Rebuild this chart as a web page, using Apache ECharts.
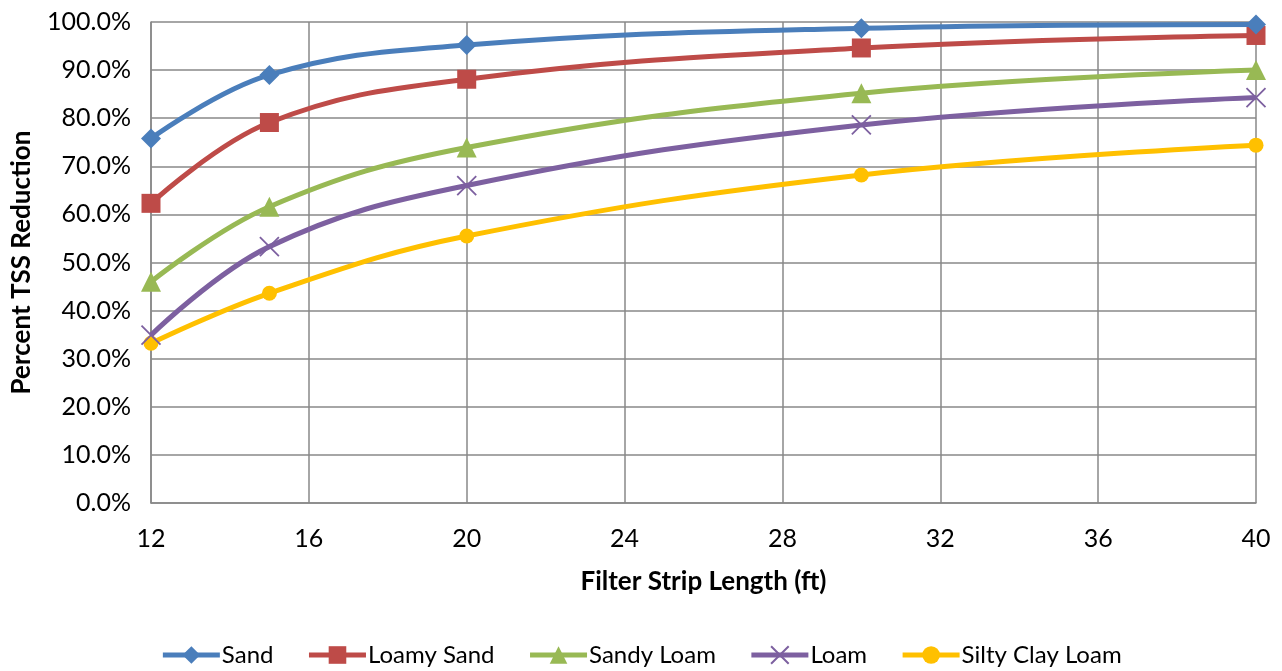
<!DOCTYPE html>
<html>
<head>
<meta charset="utf-8">
<script src="https://cdn.jsdelivr.net/npm/echarts@6/dist/echarts.min.js"></script>
<style>
  html, body { margin: 0; padding: 0; background: #fff; }
  #chart { width: 1282px; height: 671px; }
</style>
</head>
<body>
<div id="chart"></div>
<script>
// Filter strip lengths (ft)
const lengths = [12, 15, 20, 30, 40];

// Percent TSS reduction per soil type
const sand          = [75.8, 89.0, 95.2, 98.7, 99.5];
const loamySand     = [62.3, 79.1, 88.1, 94.6, 97.2];
const sandyLoam     = [46.0, 61.6, 73.9, 85.2, 90.0];
const loam          = [34.9, 53.3, 66.0, 78.6, 84.3];
const siltyClayLoam = [33.2, 43.6, 55.5, 68.2, 74.4];

const seriesNames = ['Sand', 'Loamy Sand', 'Sandy Loam', 'Loam', 'Silty Clay Loam'];
const seriesData = [sand, loamySand, sandyLoam, loam, siltyClayLoam];
const colors = ['#4a7ebb', '#be4b48', '#98b954', '#7d60a0', '#ffc000'];
const symbols = ['diamond', 'rect', 'triangle', 'path://M0,0 L10,10 M10,0 L0,10', 'circle'];
const symbolSizes = [20, 19, 20, 19, 15];

const FONT = 'Lato, "Open Sans", sans-serif';

const chart = echarts.init(document.getElementById('chart'), null, { renderer: 'canvas' });

const series = seriesNames.map((name, i) => {
  const isCross = i === 3;
  return {
    name: name,
    type: 'line',
    smooth: 0.4,
    data: lengths.map((x, j) => [x, seriesData[i][j]]),
    symbol: symbols[i],
    symbolSize: symbolSizes[i],
    showAllSymbol: true,
    lineStyle: { color: colors[i], width: 5 },
    itemStyle: isCross
      ? { color: 'rgba(0,0,0,0)', borderColor: colors[i], borderWidth: 1.8 }
      : { color: colors[i], borderWidth: 0 },
    z: 10 - i
  };
});

chart.setOption({
  animation: false,
  color: colors,
  grid: { left: 151, right: 26, top: 22, bottom: 168 },
  xAxis: {
    type: 'value',
    min: 12,
    max: 40,
    interval: 4,
    name: 'Filter Strip Length (ft)',
    nameLocation: 'middle',
    nameGap: 66,
    nameTextStyle: { fontFamily: FONT, fontSize: 26, fontWeight: 'bold', color: '#000' },
    axisLine: { show: true, lineStyle: { color: '#888', width: 1.5 } },
    axisTick: { show: false },
    axisLabel: { fontFamily: FONT, fontSize: 25, color: '#000', margin: 23 },
    splitLine: { show: true, lineStyle: { color: '#888', width: 1.5 } }
  },
  yAxis: {
    type: 'value',
    min: 0,
    max: 100,
    interval: 10,
    name: 'Percent TSS Reduction',
    nameLocation: 'middle',
    nameGap: 116,
    nameTextStyle: { fontFamily: FONT, fontSize: 26, fontWeight: 'bold', color: '#000' },
    axisLine: { show: true, lineStyle: { color: '#888', width: 1.5 } },
    axisTick: { show: false },
    axisLabel: {
      fontFamily: FONT, fontSize: 25, color: '#000', margin: 20,
      formatter: v => v.toFixed(1) + '%'
    },
    splitLine: { show: true, lineStyle: { color: '#888', width: 1.5 } }
  },
  legend: {
    bottom: -1,
    left: 'center',
    itemWidth: 57,
    itemHeight: 22,
    itemGap: 33,
    lineStyle: { width: 5 },
    textStyle: { fontFamily: FONT, fontSize: 24, color: '#000', padding: [0, 0, 0, -3] },
    data: seriesNames
  },
  series: series
});
</script>
</body>
</html>
